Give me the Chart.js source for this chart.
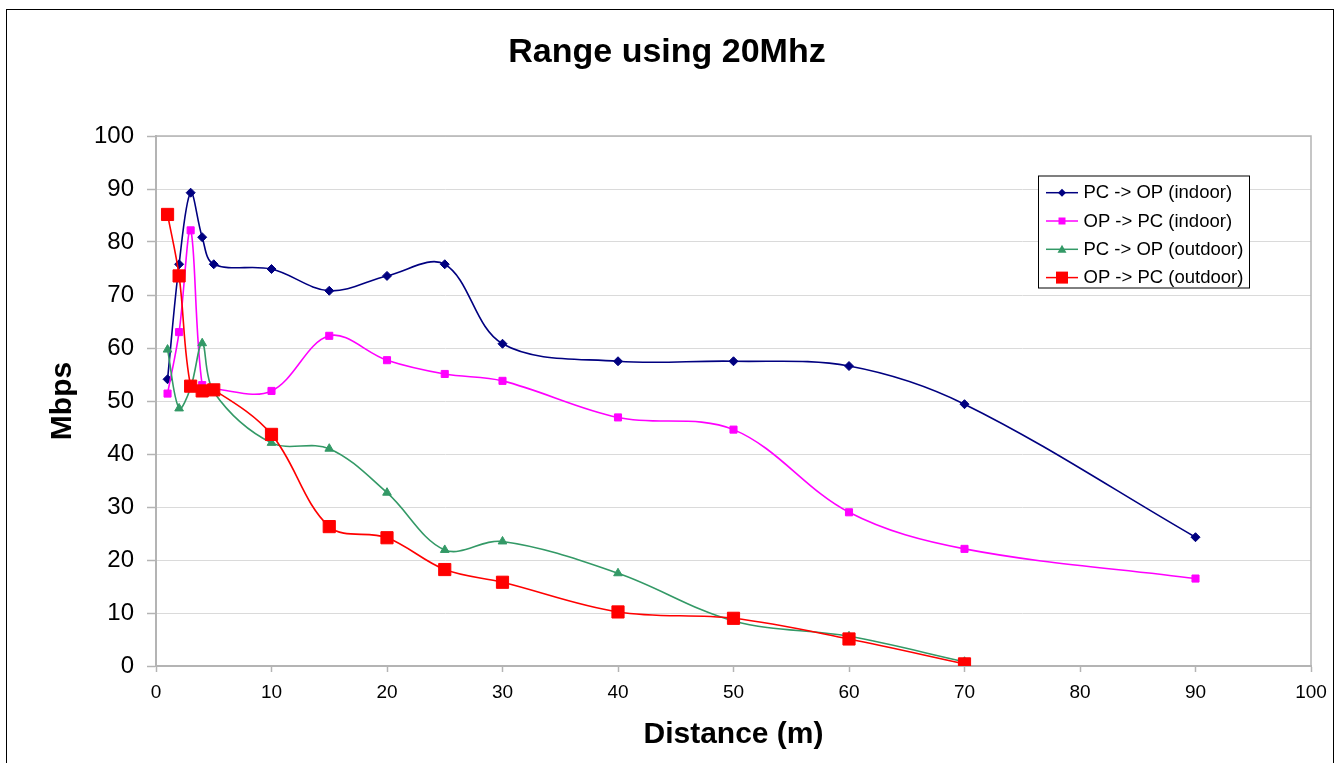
<!DOCTYPE html>
<html>
<head>
<meta charset="utf-8">
<title>Range using 20Mhz</title>
<script src="https://cdn.jsdelivr.net/npm/chart.js@4/dist/chart.umd.min.js"></script>
<style>
  html, body { margin: 0; padding: 0; background: #fff; }
  #wrap { position: relative; width: 1342px; height: 763px; overflow: hidden; }
  #frame { position: absolute; left: 6px; top: 8.5px; width: 1328px; height: 800px;
           border: 1.5px solid #000; box-sizing: border-box; }
  #c { position: absolute; left: 0; top: 0; }
</style>
</head>
<body>
<div id="wrap">
  <div id="frame"></div>
  <canvas id="c" width="1342" height="763"></canvas>
</div>
<script>
// Distances (m) at which throughput was measured
const distancesIndoor  = [1, 2, 3, 4, 5, 10, 15, 20, 25, 30, 40, 50, 60, 70, 90];
const distancesOutdoor = [1, 2, 3, 4, 5, 10, 15, 20, 25, 30, 40, 50, 60, 70];

// Throughput (Mbps)
const pcToOpIndoor  = [54.1, 75.8, 89.3, 80.9, 75.8, 74.9, 70.8, 73.6, 75.8, 60.8, 57.5, 57.5, 56.6, 49.4, 24.3];
const opToPcIndoor  = [51.4, 63.0, 82.2, 53.0, 52.3, 51.9, 62.3, 57.7, 55.1, 53.8, 46.9, 44.6, 29.0, 22.1, 16.5];
const pcToOpOutdoor = [59.7, 48.6, 52.5, 60.9, 51.7, 42.1, 41.0, 32.7, 21.9, 23.5, 17.5, 8.5, 5.6, 0.8];
const opToPcOutdoor = [85.2, 73.6, 52.8, 51.9, 52.1, 43.7, 26.3, 24.2, 18.2, 15.8, 10.2, 9.0, 5.1, 0.4];

const seriesNames = ['PC -> OP (indoor)', 'OP -> PC (indoor)', 'PC -> OP (outdoor)', 'OP -> PC (outdoor)'];

const chartTitle = 'Range using 20Mhz';
const xTitle = 'Distance (m)';
const yTitle = 'Mbps';

const FONT = "'Liberation Sans', Arial, Helvetica, sans-serif";
Chart.defaults.font.family = FONT;
Chart.defaults.color = '#000';

const toPoints = (xs, ys) => xs.map((x, i) => ({ x: x, y: ys[i] }));

const seriesStyle = [
  { color: '#000080', pointStyle: 'rectRot',  radius: 4.5, order: 4, legendSize: 4 },
  { color: '#FF00FF', pointStyle: 'rect',     radius: 5,   order: 3, legendSize: 3.5 },
  { color: '#339966', pointStyle: 'triangle', radius: 5,   order: 2, legendSize: 4.5 },
  { color: '#FF0000', pointStyle: 'rect',     radius: 8.6, order: 1, legendSize: 6 }
];
const seriesData = [
  toPoints(distancesIndoor, pcToOpIndoor),
  toPoints(distancesIndoor, opToPcIndoor),
  toPoints(distancesOutdoor, pcToOpOutdoor),
  toPoints(distancesOutdoor, opToPcOutdoor)
];

const datasets = seriesData.map((pts, i) => ({
  label: seriesNames[i],
  data: pts,
  showLine: true,
  borderColor: seriesStyle[i].color,
  backgroundColor: seriesStyle[i].color,
  borderWidth: 1.6,
  tension: 0.35,
  pointStyle: seriesStyle[i].pointStyle,
  pointRadius: seriesStyle[i].radius,
  pointBorderWidth: 1,
  pointBackgroundColor: seriesStyle[i].color,
  pointBorderColor: seriesStyle[i].color,
  order: seriesStyle[i].order
}));

// Chart heading, centred over the whole frame
const heading = {
  id: 'heading',
  afterDraw(chart) {
    const ctx = chart.ctx;
    ctx.save();
    ctx.fillStyle = '#000';
    ctx.font = 'bold 34px ' + FONT;
    ctx.textAlign = 'center';
    ctx.textBaseline = 'middle';
    ctx.fillText(chartTitle, 667, 53);
    ctx.restore();
  }
};

// Grey frame around the plotting area
const plotFrame = {
  id: 'plotFrame',
  beforeDatasetsDraw(chart) {
    const a = chart.chartArea, ctx = chart.ctx;
    ctx.save();
    ctx.strokeStyle = '#b4b4b4';
    ctx.lineWidth = 1.5;
    ctx.beginPath();
    ctx.moveTo(a.left, a.top);
    ctx.lineTo(a.right, a.top);
    ctx.lineTo(a.right, a.bottom);
    ctx.stroke();
    ctx.restore();
  }
};

// Boxed legend inside the plot area
const boxLegend = {
  id: 'boxLegend',
  afterDraw(chart) {
    const ctx = chart.ctx;
    const left = 1038.5, top = 176, w = 211, h = 112;
    ctx.save();
    ctx.fillStyle = '#fff';
    ctx.fillRect(left, top, w, h);
    ctx.strokeStyle = '#000';
    ctx.lineWidth = 1;
    ctx.strokeRect(left, top, w, h);
    chart.data.datasets.forEach((ds, i) => {
      const st = seriesStyle[i];
      const y = 192.7 + i * 28.3;
      const cx = 1062;
      ctx.strokeStyle = st.color;
      ctx.fillStyle = st.color;
      ctx.lineWidth = 1.5;
      ctx.beginPath();
      ctx.moveTo(1046, y);
      ctx.lineTo(1078, y);
      ctx.stroke();
      const s = st.legendSize;
      ctx.beginPath();
      if (st.pointStyle === 'rectRot') {
        ctx.moveTo(cx, y - s); ctx.lineTo(cx + s, y); ctx.lineTo(cx, y + s); ctx.lineTo(cx - s, y);
        ctx.closePath();
      } else if (st.pointStyle === 'triangle') {
        ctx.moveTo(cx, y - s); ctx.lineTo(cx + s, y + s * 0.75); ctx.lineTo(cx - s, y + s * 0.75);
        ctx.closePath();
      } else {
        ctx.rect(cx - s, y - s, 2 * s, 2 * s);
      }
      ctx.fill();
      ctx.fillStyle = '#000';
      ctx.font = '18.5px ' + FONT;
      ctx.textBaseline = 'middle';
      ctx.textAlign = 'left';
      ctx.fillText(ds.label, 1083.5, y + 0.5);
    });
    ctx.restore();
  }
};

new Chart(document.getElementById('c').getContext('2d'), {
  type: 'scatter',
  data: { datasets: datasets },
  options: {
    responsive: false,
    animation: false,
    devicePixelRatio: 1,
    events: [],
    layout: { padding: { left: 0, right: 31, top: 136, bottom: 0 } },
    plugins: {
      legend: { display: false },
      tooltip: { enabled: false },
      title: { display: false }
    },
    scales: {
      x: {
        type: 'linear',
        min: 0, max: 100,
        afterFit(scale) { scale.height = 97; },
        ticks: { stepSize: 10, color: '#000', font: { size: 19 }, padding: 9, maxRotation: 0 },
        grid: { drawOnChartArea: false, drawTicks: true, tickLength: 6, tickColor: '#b4b4b4', tickWidth: 1.5 },
        border: { display: true, color: '#b4b4b4', width: 2 },
        title: {
          display: true, text: xTitle, color: '#000',
          font: { size: 30, weight: 'bold', lineHeight: 1.2 },
          padding: { top: 0, bottom: 10 }
        }
      },
      y: {
        type: 'linear',
        min: 0, max: 100,
        afterFit(scale) { scale.width = 156; },
        ticks: { stepSize: 10, color: '#000', font: { size: 24 }, padding: 13 },
        grid: { color: '#dadada', lineWidth: 1, drawTicks: true, tickLength: 9, tickColor: '#b4b4b4', tickWidth: 1.5 },
        border: { display: true, color: '#b4b4b4', width: 2 },
        title: {
          display: true, text: yTitle, color: '#000',
          font: { size: 30, weight: 'bold', lineHeight: 1.2 },
          padding: { top: 45, bottom: 0 }
        }
      }
    }
  },
  plugins: [plotFrame, boxLegend, heading]
});
</script>
</body>
</html>
